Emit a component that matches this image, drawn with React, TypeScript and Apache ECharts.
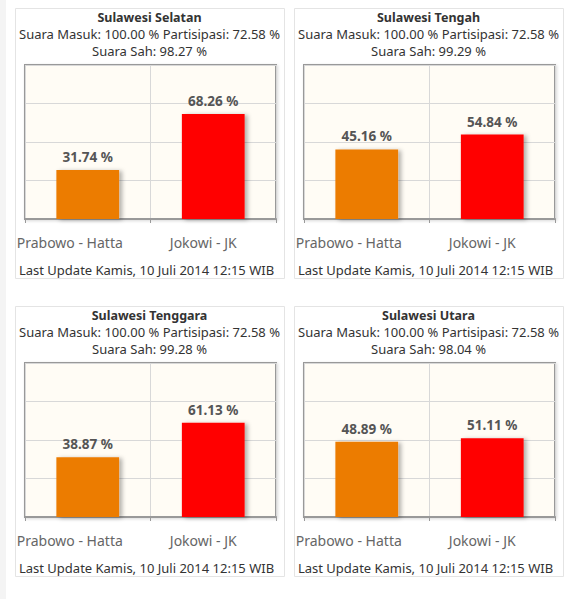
import React, { useEffect, useRef } from "react";
import * as echarts from "echarts";

const regions = ["Sulawesi Selatan", "Sulawesi Tengah", "Sulawesi Tenggara", "Sulawesi Utara"];
const suaraMasuk = [100.0, 100.0, 100.0, 100.0];
const partisipasi = [72.58, 72.58, 72.58, 72.58];
const suaraSah = [98.27, 99.29, 99.28, 98.04];
const candidates = ["Prabowo - Hatta", "Jokowi - JK"];
const prabowo = [31.74, 45.16, 38.87, 48.89];
const jokowi = [68.26, 54.84, 61.13, 51.11];
const lastUpdate = "Last Update Kamis, 10 Juli 2014 12:15 WIB";
const yTicks = [0, 25, 50, 75, 100];

const COLORS = ["#ec7b05", "#ff0000"];
const FONT = "'Noto Sans', sans-serif";

export default function App() {
  const ref = useRef<HTMLDivElement>(null);
  useEffect(() => {
    if (!ref.current) return;
    const chart = echarts.init(ref.current, undefined, { renderer: "svg" });
    const PW = 269, PH = 270;
    const grids: any[] = [];
    const xAxes: any[] = [];
    const yAxes: any[] = [];
    const series: any[] = [];
    const graphics: any[] = [
      { type: "rect", z: -10, shape: { x: 0, y: 0, width: 6, height: 599 }, style: { fill: "#f4f4f4" } },
    ];
    const txt = (x: number, y: number, text: string, font: string, lh = 16) => ({
      type: "text", x, y,
      style: { text, align: "center", verticalAlign: "middle", font, lineHeight: lh, fill: "#333" },
    });
    regions.forEach((name, i) => {
      const col = i % 2, row = Math.floor(i / 2);
      const px = 15 + col * 279, py = 8 + row * 298;
      const cx = px + PW / 2;
      graphics.push({
        type: "rect", z: -10,
        shape: { x: px + 0.5, y: py + 0.5, width: PW, height: PH },
        style: { fill: "#fff", stroke: "#e4e4e4", lineWidth: 1 },
      });
      graphics.push(txt(cx, py + 9.5, name, `bold 12.5px ${FONT}`));
      graphics.push(
        txt(
          cx,
          py + 34,
          `Suara Masuk: ${suaraMasuk[i].toFixed(2)} % Partisipasi: ${partisipasi[i].toFixed(2)} %\nSuara Sah: ${suaraSah[i].toFixed(2)} %`,
          `13px ${FONT}`,
          17
        )
      );
      graphics.push(txt(cx - 3, py + 262, lastUpdate, `13px ${FONT}`));
      grids.push({
        left: px + 10, top: py + 57, width: 251, height: 154,
        show: true, backgroundColor: "#fffcf5", borderColor: "#999", borderWidth: 2,
        shadowColor: "rgba(0,0,0,0.15)", shadowBlur: 3, shadowOffsetX: 1, shadowOffsetY: 1,
      });
      xAxes.push({
        type: "category", gridIndex: i, data: candidates,
        axisLine: { show: true, lineStyle: { color: "#999", width: 2 } },
        axisTick: { show: true, length: 4, lineStyle: { color: "#999" } },
        splitLine: { show: true, lineStyle: { color: "#d8d8d8" } },
        axisLabel: {
          interval: 0, hideOverlap: false,
          margin: 16, color: "#666", fontSize: 14, fontFamily: FONT,
          formatter: (v: string, idx: number) => `{c${idx}|${v}}`,
          rich: {
            c0: { padding: [0, 36, 0, 0], color: "#666", fontSize: 14, fontFamily: FONT },
            c1: { padding: [0, 20, 0, 0], color: "#666", fontSize: 14, fontFamily: FONT },
          },
        },
      });
      yAxes.push({
        type: "value", gridIndex: i, min: yTicks[0], max: yTicks[yTicks.length - 1], interval: yTicks[1] - yTicks[0],
        axisLine: { show: false }, axisTick: { show: false }, axisLabel: { show: false },
        splitLine: { show: true, lineStyle: { color: "#d8d8d8" } },
      });
      series.push({
        type: "bar", xAxisIndex: i, yAxisIndex: i, barWidth: "50%",
        data: [prabowo[i], jokowi[i]].map((v, k) => ({
          value: v,
          itemStyle: {
            color: COLORS[k],
            shadowColor: "rgba(0,0,0,0.3)", shadowBlur: 4, shadowOffsetX: 3, shadowOffsetY: 1,
          },
        })),
        label: {
          show: true, position: "top", distance: 6,
          formatter: (p: any) => `${Number(p.value).toFixed(2)} %`,
          color: "#555", fontWeight: "bold", fontSize: 13.5, fontFamily: FONT,
        },
      });
    });
    chart.setOption({
      animation: false,
      backgroundColor: "#fff",
      textStyle: { fontFamily: FONT },
      graphic: graphics,
      grid: grids,
      xAxis: xAxes,
      yAxis: yAxes,
      series,
    });
    return () => chart.dispose();
  }, []);
  return <div ref={ref} style={{ position: "absolute", left: 0, top: 0, width: 579, height: 599 }} />;
}
